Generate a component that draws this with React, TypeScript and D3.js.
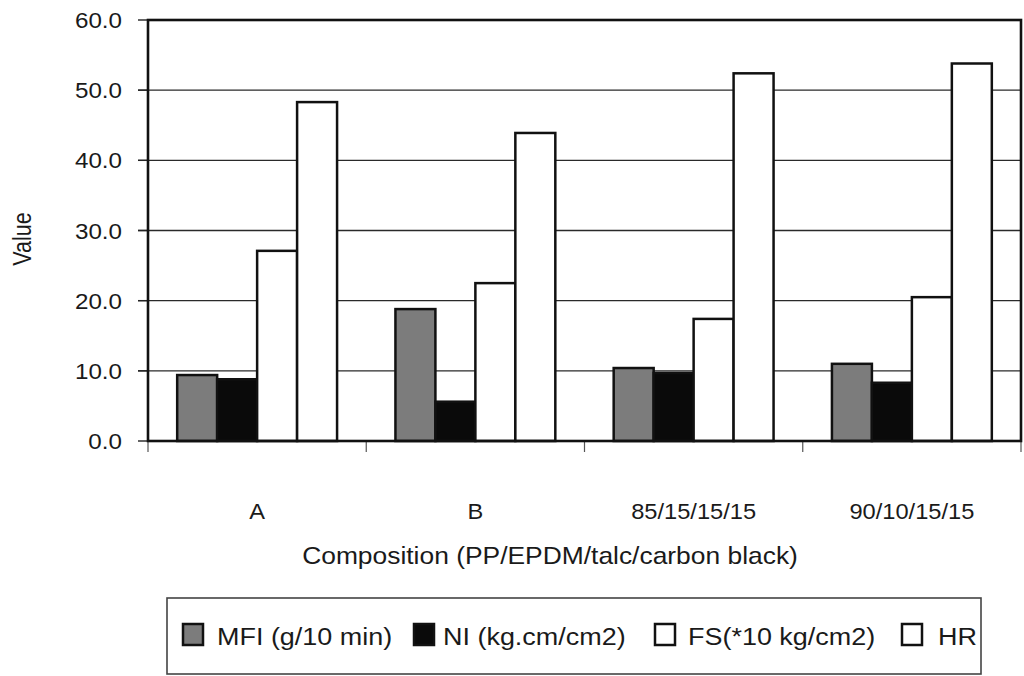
import React from "react";
import * as d3 from "d3";

const categories = ["A", "B", "85/15/15/15", "90/10/15/15"];
const seriesNames = ["MFI (g/10 min)", "NI (kg.cm/cm2)", "FS(*10 kg/cm2)", "HR"];
const mfi = [9.4, 18.8, 10.4, 11.0];
const ni = [8.8, 5.6, 9.7, 8.3];
const fs = [27.1, 22.5, 17.4, 20.5];
const hr = [48.3, 43.9, 52.4, 53.8];
const yTicks = [0, 10, 20, 30, 40, 50, 60];
const seriesFill = ["#7c7c7c", "#0a0a0a", "#ffffff", "#ffffff"];
const yTitle = "Value";
const xTitle = "Composition (PP/EPDM/talc/carbon black)";

const FONT = "'Liberation Sans', Arial, Helvetica, sans-serif";
const SX = 1.1;

function SText({ x, y, size, anchor = "start", children, rotate = 0 }: any) {
  return (
    <g transform={`translate(${x},${y}) scale(${SX},1) rotate(${rotate})`}>
      <text fontFamily={FONT} fontSize={size} textAnchor={anchor} fill="#1a1a1a">
        {children}
      </text>
    </g>
  );
}

export default function App() {
  const W = 1024;
  const H = 676;
  const left = 148;
  const right = 1021;
  const top = 20;
  const bottom = 441;

  const series = [mfi, ni, fs, hr];
  const x0 = d3.scaleBand<string>().domain(categories).range([left, right]).paddingInner(0).paddingOuter(0);
  const x1 = d3
    .scaleBand<string>()
    .domain(seriesNames)
    .range([0, x0.bandwidth()])
    .paddingInner(0)
    .paddingOuter(0.73);
  const y = d3.scaleLinear().domain([0, 60]).range([bottom, top]);

  const boundaries = categories.map((c) => x0(c) as number).concat([right]);

  const legendX = [182, 413, 654, 901];
  const legendTextX = [217, 443, 688, 938];

  return (
    <svg
      width={W}
      height={H}
      style={{ position: "absolute", left: 0, top: 0, background: "#fff" }}
    >
      <rect x={0} y={0} width={W} height={H} fill="#fff" />
      {/* gridlines */}
      {yTicks.map((t) => (
        <line
          key={"g" + t}
          x1={left - 10}
          x2={right}
          y1={y(t)}
          y2={y(t)}
          stroke="#2a2a2a"
          strokeWidth={t === 0 || t === 60 ? 0 : 1.4}
        />
      ))}
      {/* y tick marks */}
      {yTicks.map((t) => (
        <line key={"t" + t} x1={left - 10} x2={left} y1={y(t)} y2={y(t)} stroke="#222" strokeWidth={1.4} />
      ))}
      {/* x tick marks */}
      {boundaries.map((b, i) => (
        <line key={"xt" + i} x1={b} x2={b} y1={bottom} y2={bottom + 11} stroke="#555" strokeWidth={1.2} />
      ))}
      {/* bars */}
      {categories.map((c, ci) => (
        <g key={c} transform={`translate(${x0(c)},0)`}>
          {seriesNames.map((s, si) => {
            const v = series[si][ci];
            return (
              <rect
                key={s}
                x={x1(s)}
                y={y(v)}
                width={x1.bandwidth()}
                height={y(0) - y(v)}
                fill={seriesFill[si]}
                stroke="#111"
                strokeWidth={2.5}
              />
            );
          })}
        </g>
      ))}
      {/* plot border */}
      <rect x={left} y={top} width={right - left} height={bottom - top} fill="none" stroke="#111" strokeWidth={2.6} />
      {/* y tick labels */}
      {yTicks.map((t) => (
        <SText key={"yl" + t} x={122} y={y(t) + 8} size={22} anchor="end">
          {d3.format(".1f")(t)}
        </SText>
      ))}
      {/* x category labels */}
      {categories.map((c) => (
        <SText key={"xl" + c} x={(x0(c) as number) + x0.bandwidth() / 2} y={519} size={21.5} anchor="middle">
          {c}
        </SText>
      ))}
      {/* axis titles */}
      <SText x={550} y={564} size={24} anchor="middle">
        {xTitle}
      </SText>
      <g transform={`translate(31,239) scale(1.2,1) rotate(-90)`}>
        <text fontFamily={FONT} fontSize={21.5} textAnchor="middle" fill="#1a1a1a">
          {yTitle}
        </text>
      </g>
      {/* legend */}
      <rect x={167} y={598} width={814} height={76} fill="#fff" stroke="#444" strokeWidth={1.6} />
      {seriesNames.map((s, i) => (
        <g key={"lg" + s}>
          <rect x={legendX[i] + 1} y={624} width={20} height={21} fill={seriesFill[i]} stroke="#111" strokeWidth={2.5} />
          <SText x={legendTextX[i]} y={645} size={24.5}>
            {s}
          </SText>
        </g>
      ))}
    </svg>
  );
}
